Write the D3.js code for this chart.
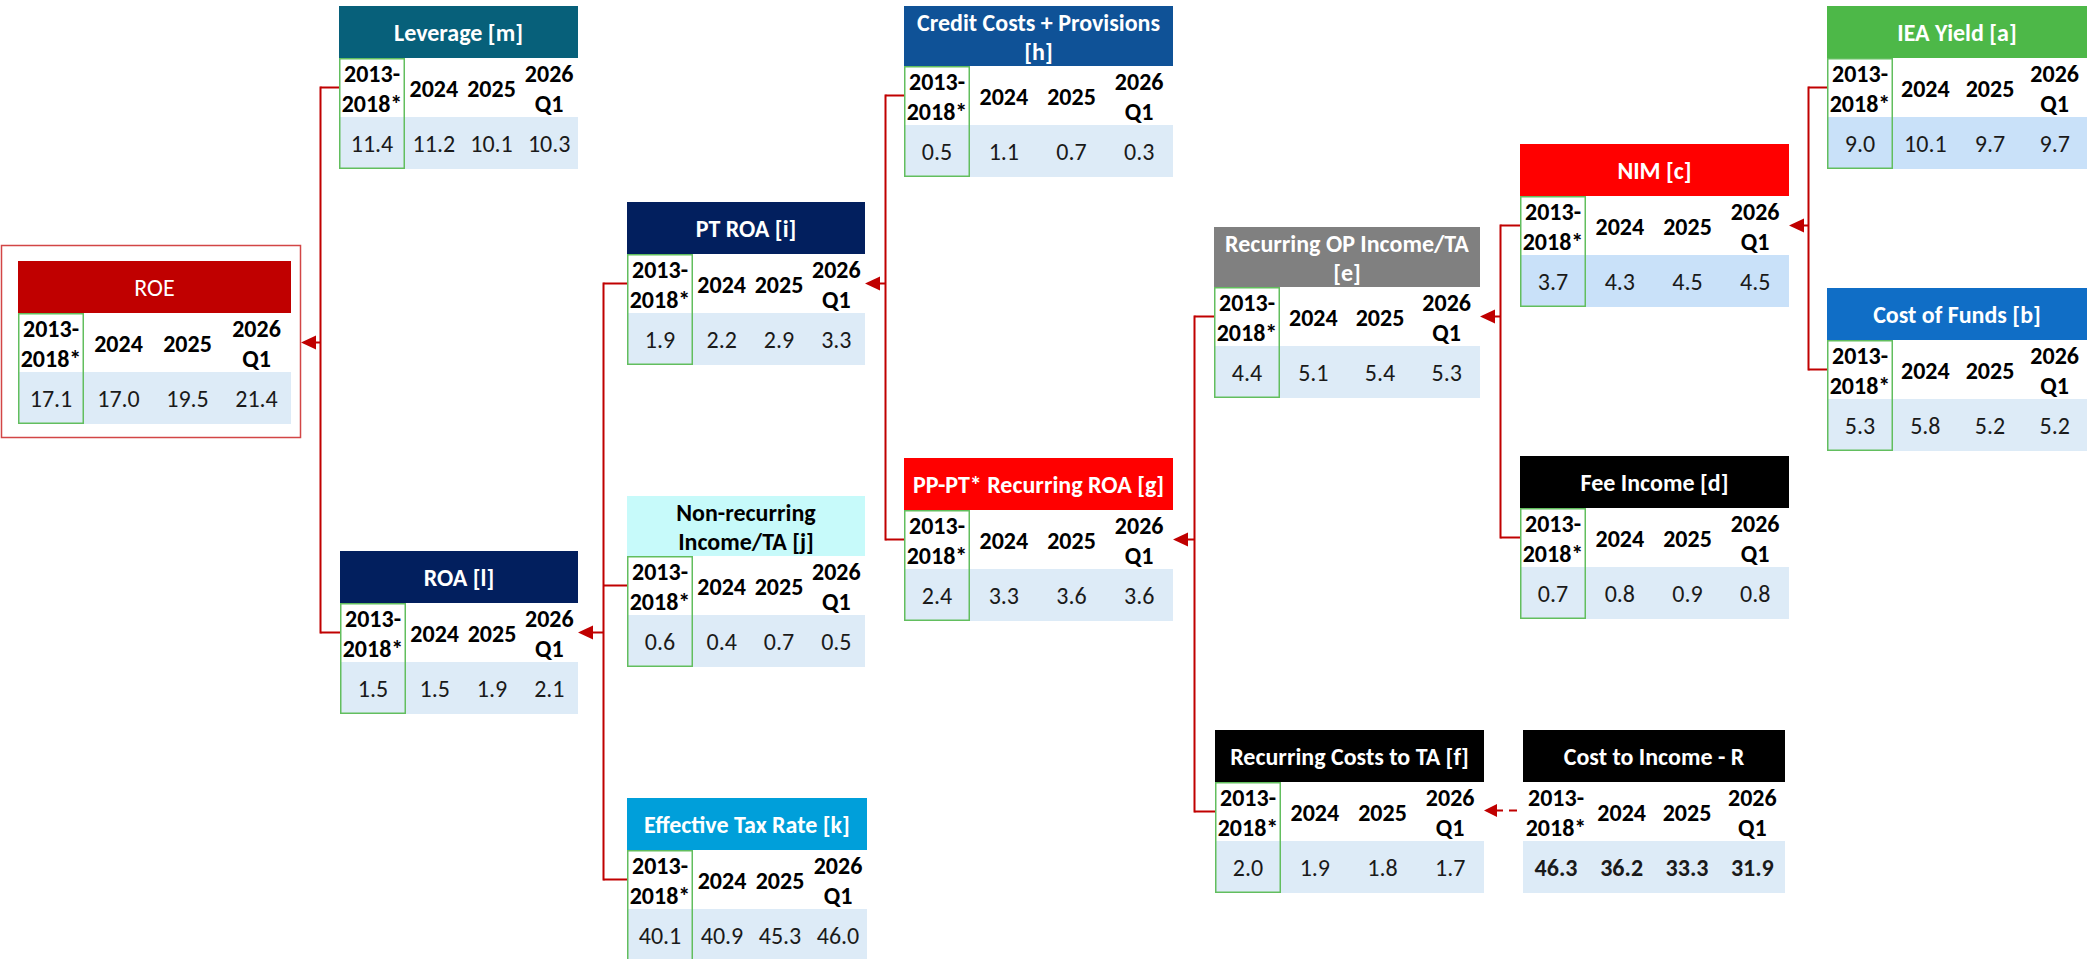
<!DOCTYPE html>
<html>
<head>
<meta charset="utf-8">
<script src="https://cdn.jsdelivr.net/npm/d3@7"></script>
<style>
html,body{margin:0;padding:0;background:#fff;}
svg{display:block;}
</style>
</head>
<body>
<svg id="chart" width="2087" height="959"></svg>
<script>
// ---------------- DATA ----------------
const periods = ["2013-2018*", "2024", "2025", "2026 Q1"];
const periodLabels = [["2013-", "2018*"], ["2024"], ["2025"], ["2026", "Q1"]];

const nodeIds = ["roe","lev","roa","ptroa","nonrec","tax","credit","pppt","recop","reccost","nim","fee","cti","iea","cof"];
const nodeTitles = [
  ["ROE"], ["Leverage [m]"], ["ROA [l]"], ["PT ROA [i]"],
  ["Non-recurring", "Income/TA [j]"], ["Effective Tax Rate [k]"],
  ["Credit Costs + Provisions", "[h]"], ["PP-PT* Recurring ROA [g]"],
  ["Recurring OP Income/TA", "[e]"], ["Recurring Costs to TA [f]"],
  ["NIM [c]"], ["Fee Income [d]"], ["Cost to Income - R"],
  ["IEA Yield [a]"], ["Cost of Funds [b]"]
];

const roe            = [17.1, 17.0, 19.5, 21.4];
const leverage       = [11.4, 11.2, 10.1, 10.3];
const roa            = [1.5, 1.5, 1.9, 2.1];
const ptRoa          = [1.9, 2.2, 2.9, 3.3];
const nonRecurring   = [0.6, 0.4, 0.7, 0.5];
const taxRate        = [40.1, 40.9, 45.3, 46.0];
const creditCosts    = [0.5, 1.1, 0.7, 0.3];
const ppptRoa        = [2.4, 3.3, 3.6, 3.6];
const recurringOp    = [4.4, 5.1, 5.4, 5.3];
const recurringCosts = [2.0, 1.9, 1.8, 1.7];
const nim            = [3.7, 4.3, 4.5, 4.5];
const feeIncome      = [0.7, 0.8, 0.9, 0.8];
const costToIncome   = [46.3, 36.2, 33.3, 31.9];
const ieaYield       = [9.0, 10.1, 9.7, 9.7];
const costOfFunds    = [5.3, 5.8, 5.2, 5.2];
const nodeValues = [roe, leverage, roa, ptRoa, nonRecurring, taxRate, creditCosts,
  ppptRoa, recurringOp, recurringCosts, nim, feeIncome, costToIncome, ieaYield, costOfFunds];

// tree links: parent <- children
const linkParents  = ["roe","roa","ptroa","pppt","recop","nim"];
const linkChildren = [["lev","roa"], ["ptroa","nonrec","tax"], ["credit","pppt"], ["recop","reccost"], ["nim","fee"], ["iea","cof"]];
const dashedLinks  = [["reccost","cti"]];

// ---------------- LAYOUT / STYLE ----------------
const layout = {
  roe:     {x:18,   y:261, w:273, hh:52, fill:"#C00000", tc:"#fff", tw:"normal"},
  lev:     {x:339,  y:6,   w:239, hh:52, fill:"#07607A", tc:"#fff"},
  roa:     {x:340,  y:551, w:238, hh:52, fill:"#021F5E", tc:"#fff"},
  ptroa:   {x:627,  y:202, w:238, hh:52, fill:"#021F5E", tc:"#fff"},
  nonrec:  {x:627,  y:496, w:238, hh:60, fill:"#C7FAFA", tc:"#000"},
  tax:     {x:627,  y:798, w:240, hh:52, fill:"#009FDA", tc:"#fff"},
  credit:  {x:904,  y:6,   w:269, hh:60, fill:"#0F5297", tc:"#fff"},
  pppt:    {x:904,  y:458, w:269, hh:52, fill:"#FF0000", tc:"#fff"},
  recop:   {x:1214, y:227, w:266, hh:60, fill:"#808080", tc:"#fff"},
  reccost: {x:1215, y:730, w:269, hh:52, fill:"#000000", tc:"#fff"},
  nim:     {x:1520, y:144, w:269, hh:52, fill:"#FF0000", tc:"#fff", vbg:"#C9E1F9"},
  fee:     {x:1520, y:456, w:269, hh:52, fill:"#000000", tc:"#fff"},
  cti:     {x:1523, y:730, w:262, hh:52, fill:"#000000", tc:"#fff", noGreen:true, boldVals:true},
  iea:     {x:1827, y:6,   w:260, hh:52, fill:"#4DB848", tc:"#fff", vbg:"#C9E1F9"},
  cof:     {x:1827, y:288, w:260, hh:52, fill:"#106EC6", tc:"#fff"}
};
const roeBox = {x:1, y:245, w:300, h:193};
const SUB_H = 59, VAL_H = 52, FIRST_COL = 66;
const LINE_COLOR = "#C00000";
const VAL_BG = "#DDEBF7";
const GREEN = "#62BE5E";

function fontAvailable(name){
  const c = document.createElement('canvas').getContext('2d');
  const s = 'abcdefghijklmnopqrstuvwxyz0123456789ABCDEF';
  c.font = '40px monospace'; const a = c.measureText(s).width;
  c.font = `40px "${name}", monospace`; const b = c.measureText(s).width;
  return Math.abs(a-b) > 0.5;
}
const hasCarlito = fontAvailable('Carlito');
const FONT = hasCarlito ? '"Carlito", sans-serif' : '"Lato", sans-serif';
const FS = hasCarlito ? 24 : 23;
const CAP = hasCarlito ? 0.644 : 0.72;

const svg = d3.select("#chart");
const gLinks = svg.append("g");
const gNodes = svg.append("g");

const nodes = nodeIds.map((id,i)=>Object.assign({id, title:nodeTitles[i], values:nodeValues[i]}, layout[id]));
const byId = Object.fromEntries(nodes.map(n=>[n.id,n]));
const anchorY = n => n.y + n.hh + SUB_H/2;
const rightEdge = n => n.id === "roe" ? roeBox.x + roeBox.w : n.x + n.w;

// ---------- connectors ----------
function arrowHead(g, tipX, y, len, half){
  g.append("path")
    .attr("d", d3.line()([[tipX,y],[tipX+len,y-half],[tipX+len,y+half]]) + "Z")
    .attr("fill", LINE_COLOR);
}
linkParents.forEach((pid, i)=>{
  const p = byId[pid];
  const kids = linkChildren[i].map(k=>byId[k]);
  const px = rightEdge(p), py = anchorY(p);
  const childLeft = d3.min(kids, k=>k.x);
  const vx = Math.round((px + childLeft)/2) + 0.5;
  const ys = kids.map(anchorY).concat([py]);
  const g = gLinks.append("g");
  g.append("line").attr("x1",vx).attr("x2",vx).attr("y1",d3.min(ys)-1).attr("y2",d3.max(ys)+1)
    .attr("stroke",LINE_COLOR).attr("stroke-width",2);
  kids.forEach(k=>{
    g.append("line").attr("x1",vx).attr("x2",k.x).attr("y1",anchorY(k)).attr("y2",anchorY(k))
      .attr("stroke",LINE_COLOR).attr("stroke-width",2);
  });
  g.append("line").attr("x1",px+12).attr("x2",vx).attr("y1",py).attr("y2",py)
    .attr("stroke",LINE_COLOR).attr("stroke-width",2);
  arrowHead(g, px, py, 15, 7);
});
dashedLinks.forEach(([tid, sid])=>{
  const t = byId[tid], s = byId[sid];
  const tx = rightEdge(t), y = anchorY(t) - 1;
  const g = gLinks.append("g");
  g.append("line").attr("x1",tx+11).attr("x2",s.x-5).attr("y1",y).attr("y2",y)
    .attr("stroke",LINE_COLOR).attr("stroke-width",2.2).attr("stroke-dasharray","8,6");
  arrowHead(g, tx, y, 13, 6.5);
});

// ROE outer box
gNodes.append("rect").attr("x",roeBox.x+0.5).attr("y",roeBox.y+0.5)
  .attr("width",roeBox.w-1).attr("height",roeBox.h-1)
  .attr("fill","#fff").attr("stroke","#D24646").attr("stroke-width",1.5);

// ---------- tables ----------
function baselineFor(center){ return center + FS*CAP/2; }

nodes.forEach(n=>{
  const g = gNodes.append("g").attr("transform",`translate(${n.x},${n.y})`);
  const rest = d3.scaleBand().domain(periods.slice(1)).range([FIRST_COL, n.w]);
  const colX = p => p === periods[0] ? FIRST_COL/2 : rest(p) + rest.bandwidth()/2;

  // header
  g.append("rect").attr("width",n.w).attr("height",n.hh).attr("fill",n.fill);
  const tMid = n.hh/2 + 1.5;
  const tLines = n.title;
  tLines.forEach((line, li)=>{
    const c = tLines.length === 1 ? tMid : tMid + (li === 0 ? -14.5 : 14.5);
    const t = g.append("text")
      .attr("x", n.w/2).attr("y", baselineFor(c))
      .attr("text-anchor","middle")
      .attr("font-family",FONT).attr("font-size",FS)
      .attr("font-weight", n.tw || "bold")
      .attr("fill", n.tc).text(line);
    const maxW = n.w - 12;
    const len = t.node().getComputedTextLength();
    if (len > maxW) t.attr("textLength", maxW).attr("lengthAdjust","spacingAndGlyphs");
  });

  // sub header
  const sy = n.hh;
  g.append("rect").attr("y",sy).attr("width",n.w).attr("height",SUB_H).attr("fill","#fff");
  periods.forEach((p, pi)=>{
    const lines = periodLabels[pi];
    const mid = sy + SUB_H/2 + 2;
    lines.forEach((line, li)=>{
      const c = lines.length === 1 ? mid : mid + (li === 0 ? -15 : 15);
      const t = g.append("text").attr("x", colX(p)).attr("y", baselineFor(c))
        .attr("text-anchor","middle").attr("font-family",FONT).attr("font-size",FS)
        .attr("font-weight","bold").attr("fill","#000").text(line);
      const colW = p === periods[0] ? FIRST_COL : rest.bandwidth();
      const len = t.node().getComputedTextLength();
      if (len > colW - 4) t.attr("textLength", colW - 4).attr("lengthAdjust","spacingAndGlyphs");
    });
  });

  // values
  const vy = sy + SUB_H;
  g.append("rect").attr("y",vy).attr("width",n.w).attr("height",VAL_H).attr("fill",n.vbg || VAL_BG);
  periods.forEach((p, pi)=>{
    g.append("text").attr("x", colX(p)).attr("y", baselineFor(vy + VAL_H/2 + 1.5))
      .attr("text-anchor","middle").attr("font-family",FONT).attr("font-size",FS)
      .attr("font-weight", n.boldVals ? "bold" : "normal")
      .attr("fill","#1a1a1a").text(d3.format(".1f")(n.values[pi]));
  });

  // green highlight of the 2013-2018 column
  if (!n.noGreen){
    g.append("rect").attr("x",0.75).attr("y",sy+0.75)
      .attr("width",FIRST_COL-1.5).attr("height",SUB_H+VAL_H-1.5)
      .attr("fill","none").attr("stroke",GREEN).attr("stroke-width",1.5);
  }
});
</script>
</body>
</html>
